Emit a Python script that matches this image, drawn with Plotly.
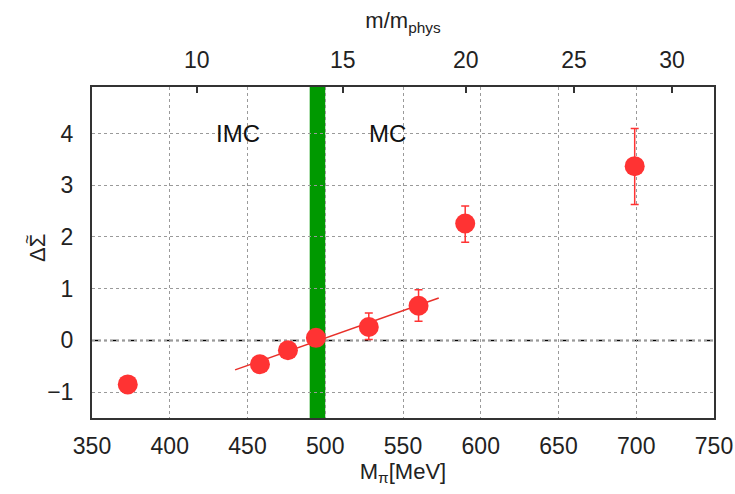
import numpy as np
import plotly.graph_objects as go

# Data
m_pi = [373, 458, 476, 494, 528, 560, 590, 699]
delta_sigma = [-0.85, -0.46, -0.19, 0.05, 0.26, 0.67, 2.26, 3.37]
err_plus = [0.0, 0.0, 0.0, 0.0, 0.27, 0.31, 0.34, 0.73]
err_minus = [0.0, 0.0, 0.0, 0.0, 0.24, 0.30, 0.36, 0.74]

fit_x = [442, 573]
fit_y = [-0.57, 0.82]

band_x = [490, 500]

x_ticks = [350, 400, 450, 500, 550, 600, 650, 700, 750]
y_ticks = [-1, 0, 1, 2, 3, 4]
y_tick_labels = ["−1", "0", "1", "2", "3", "4"]
top_tick_labels = [10, 15, 20, 25, 30]
m_pi_phys = 132.0  # scale: M_pi = m_pi_phys * sqrt(m/m_phys)
top_tick_pos = [m_pi_phys * np.sqrt(v) for v in top_tick_labels]

FONT = "Liberation Sans, Arial, sans-serif"
RED = "#ff3333"
GRID = "#9a9a9a"

W, H = 735, 494
ML, MR, MT, MB = 92, 21, 87, 76
PW, PH = W - ML - MR, H - MT - MB


def px_to_paper(px, py):
    return (px - ML) / PW, (H - MB - py) / PH


fig = go.Figure()

# green band (between grid and traces)
fig.add_shape(type="rect", xref="x", yref="paper", x0=band_x[0], x1=band_x[1],
              y0=0, y1=1, fillcolor="#009900", line=dict(width=0), layer="between")

# zero line
fig.add_shape(type="line", xref="paper", yref="y", x0=0, x1=1, y0=0, y1=0,
              line=dict(color="black", width=1.5, dash="dashdot"), layer="between")

# fit line
fig.add_trace(go.Scatter(x=fit_x, y=fit_y, mode="lines",
                         line=dict(color="#e8302a", width=1.5),
                         showlegend=False, hoverinfo="skip"))

# data points
fig.add_trace(go.Scatter(
    x=m_pi, y=delta_sigma, mode="markers",
    marker=dict(color=RED, size=20),
    error_y=dict(type="data", symmetric=False, array=err_plus,
                 arrayminus=err_minus, color=RED, thickness=1.5, width=4),
    showlegend=False))

# invisible trace for top axis
fig.add_trace(go.Scatter(x=[x_ticks[0], x_ticks[-1]], y=[0, 0], xaxis="x2",
                         mode="markers", marker=dict(opacity=0),
                         showlegend=False, hoverinfo="skip"))

fig.add_annotation(x=444, y=4.0, text="IMC", showarrow=False,
                   font=dict(size=24, color="#111", family=FONT))
fig.add_annotation(x=540, y=4.0, text="MC", showarrow=False,
                   font=dict(size=24, color="#111", family=FONT))

# y-axis title: Delta Sigma with tilde over Sigma (rotated)
tx, ty = px_to_paper(38, 248)
fig.add_annotation(xref="paper", yref="paper", x=tx, y=ty, text="ΔΣ",
                   textangle=-90, showarrow=False, xanchor="center", yanchor="middle",
                   font=dict(size=22, color="#222", family=FONT))
sx, sy = px_to_paper(27, 240)
fig.add_annotation(xref="paper", yref="paper", x=sx, y=sy, text="~",
                   textangle=-90, showarrow=False, xanchor="center", yanchor="middle",
                   font=dict(size=16, color="#222", family=FONT))

fig.update_layout(
    width=W, height=H,
    margin=dict(l=ML, r=MR, t=MT, b=MB),
    plot_bgcolor="white", paper_bgcolor="white",
    font=dict(family=FONT, size=23, color="#222"),
    xaxis=dict(range=[350, 750], tickvals=x_ticks, ticks="",
               showgrid=True, gridcolor=GRID, griddash="dot", gridwidth=1,
               showline=True, linecolor="#333", linewidth=2, mirror=True,
               zeroline=False, automargin=False, ticklabelstandoff=6,
               tickfont=dict(size=23),
               title=dict(text="M<sub>π</sub>[MeV]", font=dict(size=22), standoff=4)),
    xaxis2=dict(range=[350, 750], overlaying="x", side="top",
                tickvals=top_tick_pos, ticktext=[str(v) for v in top_tick_labels],
                ticks="inside", ticklen=6, tickcolor="#333", tickwidth=1.5,
                showgrid=False, zeroline=False, showline=False, automargin=False,
                ticklabelstandoff=13, tickfont=dict(size=23),
                title=dict(text="m/m<sub>phys</sub>", font=dict(size=22), standoff=12)),
    yaxis=dict(range=[-1.5, 4.9], tickvals=y_ticks,
               ticktext=y_tick_labels, ticks="",
               showgrid=True, gridcolor=GRID, griddash="dot", gridwidth=1,
               showline=True, linecolor="#333", linewidth=2, mirror=True,
               zeroline=False, automargin=False, ticklabelstandoff=12,
               tickfont=dict(size=23)),
)

fig.write_html("out.html", post_script="document.body.style.margin='0';",
               config={"displayModeBar": False})
